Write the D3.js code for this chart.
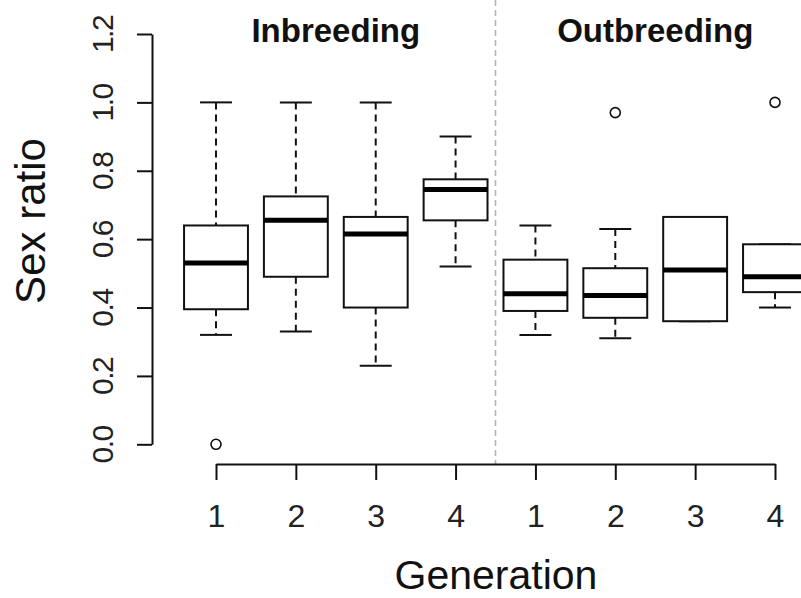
<!DOCTYPE html>
<html>
<head>
<meta charset="utf-8">
<script src="https://cdn.jsdelivr.net/npm/d3@7"></script>
<style>
    body { margin: 0; background: #fff; }
    svg { display: block; font-family: "Liberation Sans", Arial, sans-serif; }
</style>
</head>
<body>
<div id="stage"></div>
<script>
// generation label for each box, left to right
var generations = ["1", "2", "3", "4", "1", "2", "3", "4"];
var treatments = ["Inbreeding", "Outbreeding"];
// box statistics
var whiskerLow  = [0.32, 0.33, 0.23, 0.52, 0.32, 0.31, 0.36, 0.40];
var lowerQ      = [0.395, 0.49, 0.40, 0.655, 0.39, 0.37, 0.36, 0.445];
var medians     = [0.53, 0.655, 0.615, 0.745, 0.44, 0.435, 0.51, 0.49];
var upperQ      = [0.64, 0.725, 0.665, 0.775, 0.54, 0.515, 0.665, 0.585];
var whiskerHigh = [1.0, 1.0, 1.0, 0.90, 0.64, 0.63, 0.665, 0.585];
var outliers    = [[0.0], [], [], [], [], [0.97], [], [1.0]];
var yTicks = [0, 0.2, 0.4, 0.6, 0.8, 1.0, 1.2];

var W = 801, H = 598;
var svg = d3.select("#stage").append("svg").attr("width", W).attr("height", H);

var x = d3.scaleLinear().domain([1, 8]).range([216, 775]);
var y = d3.scaleLinear().domain([0, 1.2]).range([444.3, 34]);
var halfBox = (x(2) - x(1)) * 0.4;
var axisY = 464;
var axisX = 152;
var ink = "#111";

var boxes = generations.map(function(g, i) {
    return {pos: i + 1, lo: whiskerLow[i], q1: lowerQ[i], med: medians[i], q3: upperQ[i], hi: whiskerHigh[i], out: outliers[i]};
});

// divider between the two treatments
svg.append("line")
    .attr("x1", x(4.5)).attr("x2", x(4.5))
    .attr("y1", 0).attr("y2", axisY)
    .style("stroke", "#b4b4b4")
    .style("stroke-width", 1.6)
    .style("stroke-dasharray", "6,4");

var g = svg.selectAll("g.box").data(boxes).enter().append("g").attr("class", "box");

// dashed whiskers
g.append("line")
    .attr("x1", d => x(d.pos)).attr("x2", d => x(d.pos))
    .attr("y1", d => y(d.hi)).attr("y2", d => y(d.q3))
    .style("stroke", ink).style("stroke-width", 2).style("stroke-dasharray", "7,5");
g.append("line")
    .attr("x1", d => x(d.pos)).attr("x2", d => x(d.pos))
    .attr("y1", d => y(d.q1)).attr("y2", d => y(d.lo))
    .style("stroke", ink).style("stroke-width", 2).style("stroke-dasharray", "7,5");
// caps
g.append("line")
    .attr("x1", d => x(d.pos) - halfBox / 2).attr("x2", d => x(d.pos) + halfBox / 2)
    .attr("y1", d => y(d.hi)).attr("y2", d => y(d.hi))
    .style("stroke", ink).style("stroke-width", 2);
g.append("line")
    .attr("x1", d => x(d.pos) - halfBox / 2).attr("x2", d => x(d.pos) + halfBox / 2)
    .attr("y1", d => y(d.lo)).attr("y2", d => y(d.lo))
    .style("stroke", ink).style("stroke-width", 2);
// box
g.append("rect")
    .attr("x", d => x(d.pos) - halfBox)
    .attr("width", halfBox * 2)
    .attr("y", d => y(d.q3))
    .attr("height", d => y(d.q1) - y(d.q3))
    .style("fill", "#fff").style("stroke", ink).style("stroke-width", 2);
// median
g.append("line")
    .attr("x1", d => x(d.pos) - halfBox).attr("x2", d => x(d.pos) + halfBox)
    .attr("y1", d => y(d.med)).attr("y2", d => y(d.med))
    .style("stroke", "#000").style("stroke-width", 5);
// outliers
g.selectAll("circle").data(d => d.out.map(v => ({pos: d.pos, v: v}))).enter().append("circle")
    .attr("cx", d => x(d.pos)).attr("cy", d => y(d.v)).attr("r", 5)
    .style("fill", "none").style("stroke", ink).style("stroke-width", 1.6);

// y axis
var yAxis = svg.append("g").attr("transform", "translate(" + axisX + ",0)")
    .call(d3.axisLeft(y).tickValues(yTicks).tickSize(15).tickSizeOuter(0).tickFormat(d3.format(".1f")));
yAxis.select(".domain").style("stroke", ink).style("stroke-width", 2);
yAxis.selectAll(".tick line").style("stroke", ink).style("stroke-width", 2);
yAxis.selectAll(".tick text")
    .attr("transform", "rotate(-90)")
    .attr("x", 0).attr("y", -38.7).attr("dy", 0)
    .style("text-anchor", "middle")
    .style("font-size", "30px")
    .style("letter-spacing", "-1.5px")
    .style("fill", "#222");

// x axis
var xAxis = svg.append("g").attr("transform", "translate(0," + axisY + ")")
    .call(d3.axisBottom(x).tickValues(d3.range(1, 9)).tickSize(16).tickSizeOuter(0)
        .tickFormat(d => generations[d - 1]));
xAxis.select(".domain").style("stroke", ink).style("stroke-width", 2);
xAxis.selectAll(".tick line").style("stroke", ink).style("stroke-width", 2);
xAxis.selectAll(".tick text")
    .attr("y", 63).attr("dy", 0)
    .style("font-size", "32px")
    .style("fill", "#222");

// treatment titles
svg.selectAll("text.treat").data(treatments).enter().append("text")
    .attr("class", "treat")
    .attr("x", (d, i) => x(2.5 + 4 * i))
    .attr("y", 42)
    .attr("text-anchor", "middle")
    .style("font-size", "33px")
    .style("font-weight", "bold")
    .style("fill", "#111")
    .text(d => d);

// axis titles
svg.append("text")
    .attr("x", (151 + 841) / 2).attr("y", 589)
    .attr("text-anchor", "middle")
    .style("font-size", "41px").style("fill", "#111")
    .text("Generation");
svg.append("text")
    .attr("transform", "translate(45,221) rotate(-90)")
    .attr("text-anchor", "middle")
    .style("font-size", "42px").style("fill", "#111")
    .text("Sex ratio");
</script>
</body>
</html>
